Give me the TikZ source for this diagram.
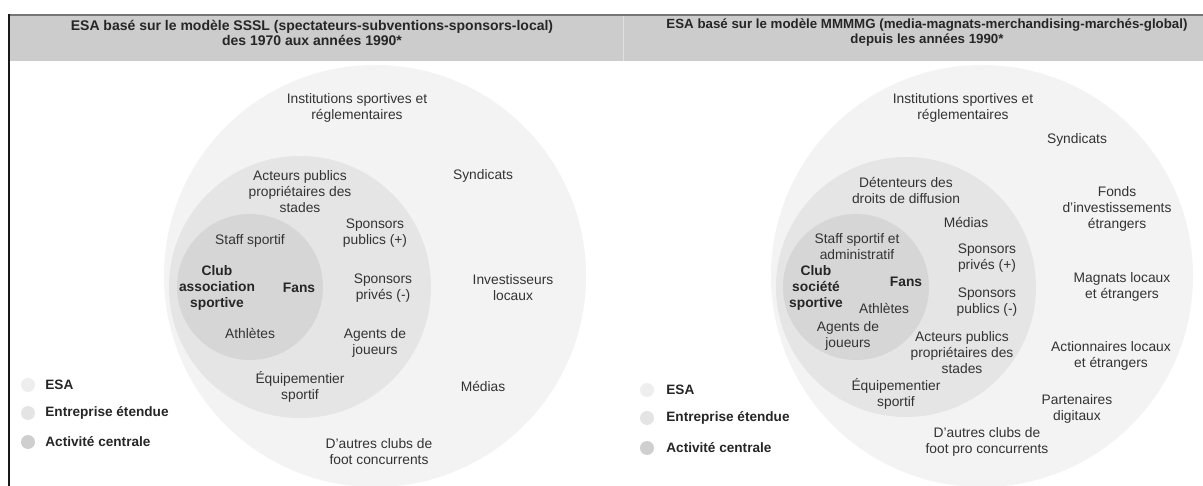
\documentclass[tikz,border=0pt]{standalone}
\usepackage{fontspec}
\setmainfont{Liberation Sans}
\usetikzlibrary{positioning}
\definecolor{HeaderGray}{RGB}{204, 204, 204}
\definecolor{RuleGray}{RGB}{118, 118, 118}
\definecolor{OuterGray}{RGB}{243, 243, 243}
\definecolor{MidGray}{RGB}{229, 229, 229}
\definecolor{CoreGray}{RGB}{214, 214, 214}
\definecolor{DotOne}{RGB}{238, 238, 238}
\definecolor{DotTwo}{RGB}{228, 228, 228}
\definecolor{DotThree}{RGB}{207, 207, 207}
\definecolor{TextGray}{RGB}{51, 51, 51}

\begin{document}
\begin{tikzpicture}[x=1pt, y=-1pt,
      lbl/.style={align=center, text=TextGray, inner sep=0pt, font=\fontsize{13.8}{16}\selectfont},
      core/.style={lbl, text=black!85, font=\fontsize{13.8}{16}\selectfont\bfseries},
      title/.style={align=center, text=black!85, inner sep=0pt, font=\fontsize{14}{15}\selectfont\bfseries},
      dot/.style={circle, minimum size=14pt, inner sep=0pt},
      legtxt/.style={text=black!85, inner sep=0pt, font=\fontsize{13.6}{16}\selectfont\bfseries}
    ]
      \useasboundingbox (0,0) rectangle (1203,486);
      \fill[white] (0,0) rectangle (1203,486);

      % header band
      \fill[HeaderGray] (9,15) rectangle (1203,61);
      \draw[RuleGray, line width=2pt] (9,15) -- (1203,15);
      \draw[black!90, line width=1.3pt] (9,14) -- (9,486);
      \draw[white!88!black, line width=0.8pt] (623,16) -- (623,61);
      \node[title] (titleL) at (312,33) {ESA basé sur le modèle SSSL (spectateurs-subventions-sponsors-local)\\des 1970 aux années 1990*};
      \node[title, font=\fontsize{13.3}{15}\selectfont\bfseries] (titleR) at (927,33) {ESA basé sur le modèle MMMMG (media-magnats-merchandising-marchés-global)\\depuis les années 1990*};

      % left model
      \fill[OuterGray] (375,276) circle (211);
      \fill[MidGray] (300,287) circle (131);
      \fill[CoreGray] (250,287) circle (73);

      \node[lbl] (instL) at (357,108) {Institutions sportives et\\réglementaires};
      \node[lbl] (acteursL) at (300,192) {Acteurs publics\\propriétaires des\\stades};
      \node[lbl] (syndL) at (483,176) {Syndicats};
      \node[lbl] (staffL) at (250,241) {Staff sportif};
      \node[lbl] (spubL) at (375,233) {Sponsors\\publics (+)};
      \node[core] (clubL) at (217,288) {Club\\association\\sportive};
      \node[core] (fansL) at (299,288) {Fans};
      \node[lbl] (sprivL) at (383,288) {Sponsors\\privés (-)};
      \node[lbl] (investL) at (513,288) {Investisseurs\\locaux};
      \node[lbl] (athL) at (250,333) {Athlètes};
      \node[lbl] (agentsL) at (375,343) {Agents de\\joueurs};
      \node[lbl] (equipL) at (300,387) {Équipementier\\sportif};
      \node[lbl] (mediasL) at (483,386) {Médias};
      \node[lbl] (autresL) at (379,452) {D'autres clubs de\\foot concurrents};

      % left legend
      \node[dot, fill=DotOne] (esaL) at (28,385) {};
      \node[dot, fill=DotTwo] (entL) at (28,413) {};
      \node[dot, fill=DotThree] (actL) at (28,442) {};
      \node[legtxt, right=10pt of esaL] (esaLt) {ESA};
      \node[legtxt, right=10pt of entL] (entLt) {Entreprise étendue};
      \node[legtxt, right=10pt of actL] (actLt) {Activité centrale};

      % right model
      \fill[OuterGray] (982,276) circle (211);
      \fill[MidGray] (906,287) circle (130);
      \fill[CoreGray] (856,287) circle (73);

      \node[lbl] (instR) at (963,108) {Institutions sportives et\\réglementaires};
      \node[lbl] (syndR) at (1077,140) {Syndicats};
      \node[lbl] (detR) at (906,190) {Détenteurs des\\droits de diffusion};
      \node[lbl] (fondsR) at (1117,209) {Fonds\\d'investissements\\étrangers};
      \node[lbl] (mediasR) at (966,222) {Médias};
      \node[lbl] (staffR) at (857,247) {Staff sportif et\\administratif};
      \node[lbl] (sprivR) at (987,258) {Sponsors\\privés (+)};
      \node[core] (clubR) at (816,288) {Club\\société\\sportive};
      \node[core] (fansR) at (906,282) {Fans};
      \node[lbl] (magR) at (1122,287) {Magnats locaux\\et étrangers};
      \node[lbl] (spubR) at (987,302) {Sponsors\\publics (-)};
      \node[lbl] (athR) at (884,308) {Athlètes};
      \node[lbl] (agentsR) at (848,336) {Agents de\\joueurs};
      \node[lbl] (acteursR) at (962,353) {Acteurs publics\\propriétaires des\\stades};
      \node[lbl] (actioR) at (1111,356) {Actionnaires locaux\\et étrangers};
      \node[lbl] (equipR) at (896,394) {Équipementier\\sportif};
      \node[lbl] (partR) at (1077,409) {Partenaires\\digitaux};
      \node[lbl] (autresR) at (987,442) {D'autres clubs de\\foot pro concurrents};

      % right legend
      \node[dot, fill=DotOne] (esaR) at (647,390) {};
      \node[dot, fill=DotTwo] (entR) at (647,418) {};
      \node[dot, fill=DotThree] (actR) at (647,448) {};
      \node[legtxt, right=12pt of esaR] (esaRt) {ESA};
      \node[legtxt, right=12pt of entR] (entRt) {Entreprise étendue};
      \node[legtxt, right=12pt of actR] (actRt) {Activité centrale};
    \end{tikzpicture}
\end{document}
